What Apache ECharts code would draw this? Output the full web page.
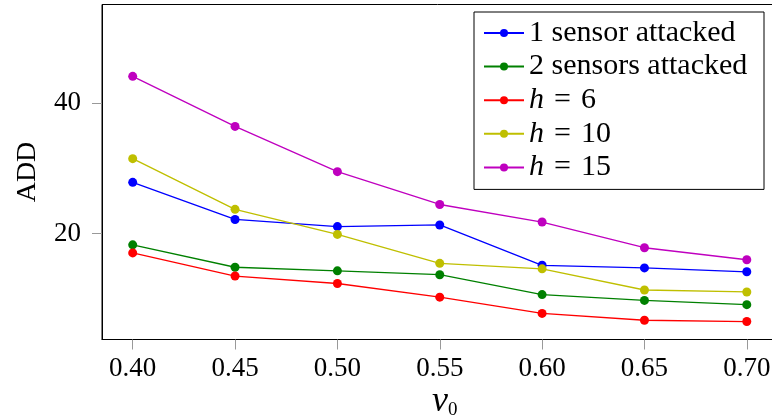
<!DOCTYPE html>
<html>
<head>
<meta charset="utf-8">
<script src="https://cdn.jsdelivr.net/npm/echarts@6/dist/echarts.min.js"></script>
<style>
  html, body { margin: 0; padding: 0; background: #fff; }
  #chart { width: 772px; height: 417px; }
</style>
</head>
<body>
<div id="chart"></div>
<script>
// Average detection delay (ADD) against the threshold parameter nu_0
const nu = [0.40, 0.45, 0.50, 0.55, 0.60, 0.65, 0.70];
const oneSensor = [27.85, 22.15, 21.05, 21.3, 15.1, 14.7, 14.1];
const twoSensors = [18.25, 14.8, 14.25, 13.65, 10.6, 9.7, 9.05];
const h6 = [17.0, 13.45, 12.3, 10.2, 7.7, 6.65, 6.45];
const h10 = [31.5, 23.7, 19.85, 15.4, 14.55, 11.3, 11.0];
const h15 = [44.15, 36.45, 29.5, 24.45, 21.75, 17.8, 15.95];

const xTicks = [0.40, 0.45, 0.50, 0.55, 0.60, 0.65, 0.70];
const yTicks = [20, 40];

const seriesNames = ['1 sensor attacked', '2 sensors attacked', 'h = 6', 'h = 10', 'h = 15'];
const seriesValues = [oneSensor, twoSensors, h6, h10, h15];
const seriesColors = ['#0000ff', '#008000', '#ff0000', '#bfbf00', '#bf00bf'];

const FONT = '"Liberation Serif", "DejaVu Serif", serif';

const chart = echarts.init(document.getElementById('chart'), null, { renderer: 'canvas' });

const series = seriesNames.map((name, i) => ({
  name: name,
  type: 'line',
  data: nu.map((x, k) => [x, seriesValues[i][k]]),
  symbol: 'circle',
  symbolSize: 9,
  showSymbol: true,
  lineStyle: { color: seriesColors[i], width: 1.3 },
  itemStyle: { color: seriesColors[i], borderWidth: 0 },
  emphasis: { disabled: true },
  animation: false
}));

chart.setOption({
  animation: false,
  backgroundColor: '#ffffff',
  grid: {
    left: 102,
    top: 4.5,
    width: 675.5,
    height: 335,
    outerBoundsMode: 'none',
    containLabel: false,
    show: true,
    borderColor: '#000',
    borderWidth: 1,
    backgroundColor: 'transparent'
  },
  xAxis: {
    type: 'value',
    min: 0.385,
    max: 0.715,
    axisLine: { show: true, onZero: false, lineStyle: { color: '#000', width: 1 } },
    axisTick: { show: true, inside: false, length: 10, customValues: xTicks, lineStyle: { color: '#999', width: 1 } },
    axisLabel: {
      customValues: xTicks,
      formatter: v => v.toFixed(2),
      fontFamily: FONT,
      fontSize: 27,
      color: '#000',
      margin: 16
    },
    splitLine: { show: false },
    name: '{nu|ν}{sub|0}',
    nameLocation: 'middle',
    nameMoveOverlap: false,
    nameGap: 44,
    nameTextStyle: {
      rich: {
        nu: { fontFamily: FONT, fontStyle: 'italic', fontSize: 36, color: '#000', lineHeight: 36, padding: [0, 0, 0, 10] },
        sub: { fontFamily: FONT, fontSize: 19, color: '#000', verticalAlign: 'bottom', lineHeight: 30 }
      }
    }
  },
  yAxis: {
    type: 'value',
    min: 3.69,
    max: 55.2,
    axisLine: { show: true, onZero: false, lineStyle: { color: '#000', width: 1 } },
    axisTick: { show: true, inside: false, length: 10, customValues: yTicks, lineStyle: { color: '#999', width: 1 } },
    axisLabel: {
      customValues: yTicks,
      fontFamily: FONT,
      fontSize: 27,
      color: '#000',
      margin: 21
    },
    splitLine: { show: false },
    name: 'ADD',
    nameLocation: 'middle',
    nameMoveOverlap: false,
    nameGap: 60,
    nameTextStyle: { fontFamily: FONT, fontSize: 28, color: '#000' }
  },
  legend: {
    left: 474,
    top: 12,
    orient: 'vertical',
    padding: [6, 12, 7, 9],
    itemGap: 3.6,
    itemWidth: 40,
    itemHeight: 10,
    borderColor: '#000',
    borderWidth: 1,
    borderRadius: 0,
    backgroundColor: '#fff',
    selectedMode: false,
    data: seriesNames,
    formatter: name => name.startsWith('h = ') ? '{i|h}{t|\u2004=\u2004' + name.slice(4) + '}' : '{t|' + name + '}',
    textStyle: {
      fontFamily: FONT,
      fontSize: 30,
      color: '#000',
      width: 223,
      lineHeight: 30,
      overflow: 'none',
      rich: {
        i: { fontFamily: FONT, fontStyle: 'italic', fontSize: 30, color: '#000', lineHeight: 30 },
        t: { fontFamily: FONT, fontSize: 30, color: '#000', lineHeight: 30 }
      }
    }
  },
  series: series
});
</script>
</body>
</html>
